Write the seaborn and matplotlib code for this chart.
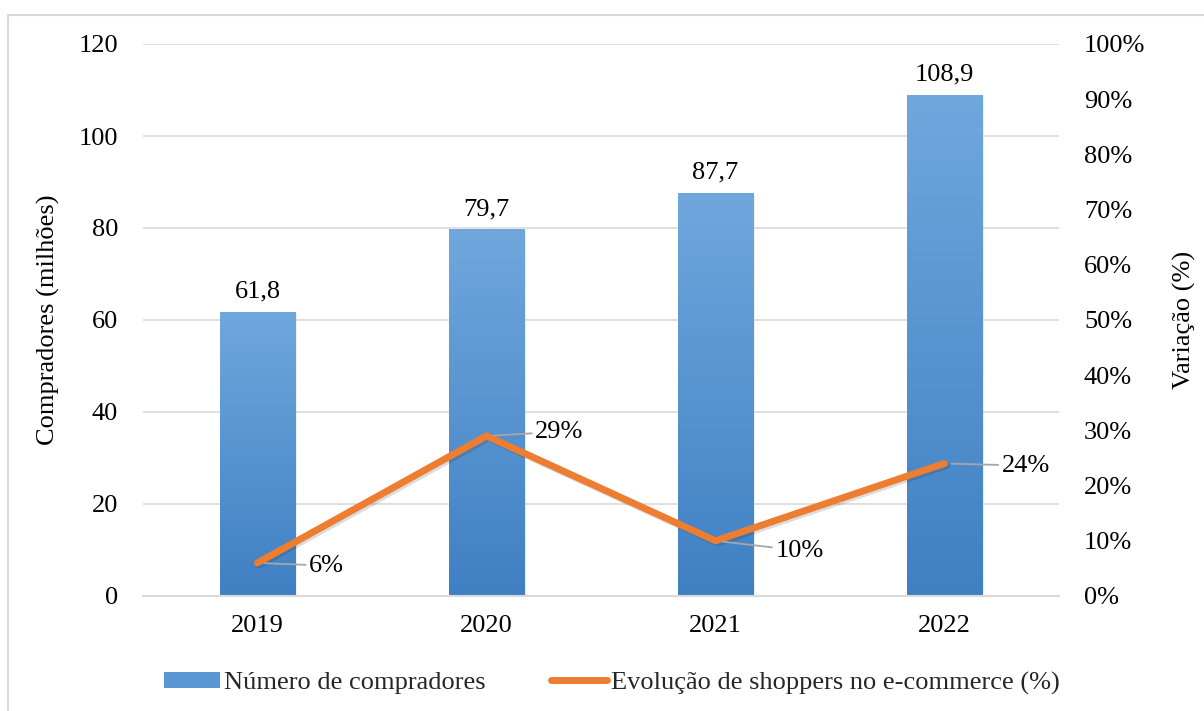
import numpy as np
import pandas as pd
import matplotlib
matplotlib.use("Agg")
import matplotlib.pyplot as plt
import matplotlib.patheffects as pe
from matplotlib.colors import LinearSegmentedColormap
from matplotlib.patches import Rectangle, Patch
from matplotlib.lines import Line2D
import seaborn as sns

# Dados
anos = ["2019", "2020", "2021", "2022"]
compradores = [61.8, 79.7, 87.7, 108.9]          # milhões
variacao = [0.06, 0.29, 0.10, 0.24]               # fração
rotulos_var = ["6%", "29%", "10%", "24%"]

sns.set_theme(style="white")
plt.rcParams["font.family"] = ["Liberation Serif", "DejaVu Serif"]
FS = 19
AZUL_TOPO = "#70A7DD"
AZUL_BASE = "#3F80C3"
LARANJA = "#ED7D31"
CINZA_GRADE = "#D9D9D9"

fig = plt.figure(figsize=(12.04, 7.11), dpi=100)
ax = fig.add_axes([143 / 1204, 1 - 596 / 711, (1059 - 143) / 1204, (596 - 44) / 711])

df = pd.DataFrame({"ano": anos, "compradores": compradores})
sns.barplot(data=df, x="ano", y="compradores", color=AZUL_BASE, width=0.33,
            saturation=1, ax=ax, zorder=2)

# Preenchimento em degradê + sombra leve nas barras
cmap = LinearSegmentedColormap.from_list("azul", [AZUL_BASE, AZUL_TOPO])
grad = np.linspace(0, 1, 256).reshape(-1, 1)
for p in ax.patches:
    x0, y0 = p.get_x(), p.get_y()
    w, h = p.get_width(), p.get_height()
    p.set_path_effects([pe.SimplePatchShadow(offset=(1.5, -1.5), alpha=0.12, rho=0.8),
                        pe.Normal()])
    im = ax.imshow(grad, extent=[x0, x0 + w, y0, y0 + h], origin="lower",
                   cmap=cmap, aspect="auto", zorder=2.5)
    im.set_clip_path(p)
    ax.text(x0 + w / 2, y0 + h + 2.0, f"{h:.1f}".replace(".", ","),
            ha="center", va="bottom", fontsize=FS, color="black", zorder=5)

ax.set_xlim(-0.5, 3.5)
ax.set_ylim(0, 120)
ax.set_yticks(np.arange(0, 121, 20))
ax.yaxis.grid(True, color=CINZA_GRADE, lw=1.2, zorder=0)
ax.set_axisbelow(True)
for s in ["top", "left", "right"]:
    ax.spines[s].set_visible(False)
ax.spines["bottom"].set_color(CINZA_GRADE)
ax.spines["bottom"].set_linewidth(1.5)
ax.tick_params(axis="y", length=0, pad=18, labelsize=FS, colors="black")
ax.tick_params(axis="x", length=0, pad=14, labelsize=FS, colors="black")
ax.set_xlabel("")
ax.set_ylabel("Compradores (milhões)", fontsize=FS, labelpad=13, color="black")

# Eixo secundário: variação percentual
ax2 = ax.twinx()
xs = np.arange(len(anos))
sns.lineplot(x=xs, y=variacao, ax=ax2, color=LARANJA, lw=5, zorder=4,
             path_effects=[pe.SimpleLineShadow(offset=(1.5, -1.5), alpha=0.15, rho=0.8),
                           pe.Normal()])
ax2.set_xlim(-0.5, 3.5)
ax2.set_ylim(0, 1)
ax2.set_yticks(np.arange(0, 1.01, 0.1))
ax2.set_yticklabels([f"{int(round(v * 100))}%" for v in np.arange(0, 1.01, 0.1)])
for s in ["top", "left", "right", "bottom"]:
    ax2.spines[s].set_visible(False)
ax2.tick_params(axis="y", length=0, pad=18, labelsize=FS, colors="black")
ax2.set_ylabel("Variação (%)", fontsize=FS, labelpad=20, color="black")
ax2.grid(False)

# Rótulos dos percentuais com linhas de chamada
offsets = [(37, -2), (35, 3), (43, -7), (41, -1.5)]
for xi, yi, lab, off in zip(xs, variacao, rotulos_var, offsets):
    ax2.annotate(lab, xy=(xi, yi), xytext=off, textcoords="offset points",
                 ha="left", va="center", fontsize=FS, color="black",
                 arrowprops=dict(arrowstyle="-", color="#A6A6A6", lw=1.3,
                                 shrinkA=0, shrinkB=5),
                 zorder=6)

# Legenda
handles = [Patch(facecolor="#5896D4", edgecolor="none"),
           Line2D([0], [0], color=LARANJA, lw=5)]
labels = ["Número de compradores", "Evolução de shoppers no e-commerce (%)"]
fig.legend(handles, labels, loc="center", bbox_to_anchor=(612 / 1204, 28 / 711),
           ncol=2, frameon=False, fontsize=FS, handlelength=2.1,
           handleheight=0.55, handletextpad=0.15, columnspacing=2.5)

# Moldura da área do gráfico
fig.patches.append(Rectangle((8 / 1204, -0.1), 1.2, 1 - 15 / 711 + 0.1,
                             transform=fig.transFigure, fill=False,
                             edgecolor=CINZA_GRADE, lw=1.5))

fig.savefig("out.png", dpi=100)
